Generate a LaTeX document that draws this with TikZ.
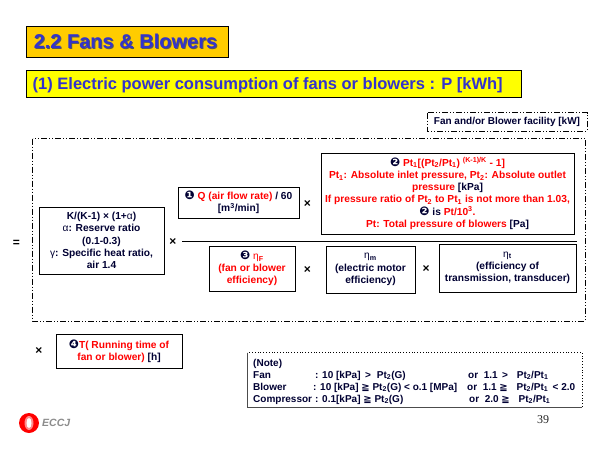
\documentclass[tikz,border=0pt]{standalone}
\usepackage{fontspec}
\setmainfont{Liberation Sans}
\newfontfamily\symfont{DejaVu Sans}
\newfontfamily\serifnum{Liberation Serif}
\definecolor{titleblue}{HTML}{3333CC}
\definecolor{titlegold}{HTML}{FFCC00}
\definecolor{subyellow}{HTML}{FFFF00}
\definecolor{inkdark}{HTML}{000033}
\newcommand{\cn}[1]{{\symfont\fontsize{12}{12}\selectfont\char"#1}}
\newcommand{\rd}[1]{\textcolor{red}{#1}}
\newcommand{\sbs}[1]{\textsubscript{#1}}
\newcommand{\rge}{{\symfont\char"2267}}
\tikzset{
  x=1pt,y=-1pt,
  every node/.style={font=\fontsize{10.2}{12.2}\selectfont\bfseries,text=inkdark,inner sep=0pt,align=center},
  termbox/.style={draw=black,line width=1pt,fill=white},
  dashframe/.style={draw=black,line width=0.9pt,dash pattern=on 6pt off 2pt on 1pt off 2pt on 1pt off 2pt},
  optext/.style={font=\fontsize{12}{12}\selectfont\bfseries,text=black},
  notetext/.style={font=\fontsize{10}{12}\selectfont\bfseries,anchor=base west},
  headtext/.style={font=\fontsize{20}{22}\selectfont\bfseries,anchor=base west,text=titleblue},
}
\begin{document}
\begin{tikzpicture}
\useasboundingbox (0,0) rectangle (600,450);
% headings
\draw[fill=titlegold,draw=black,line width=1pt] (26.5,26.5) rectangle (228,57);
\node[headtext,text=black!65] (titleshadow) at (34.6,49.6) {2.2 Fans \& Blowers};
\node[headtext] (title) at (33.6,48.6) {2.2 Fans \& Blowers};
\draw[fill=subyellow,draw=black,line width=1pt] (26.5,70.5) rectangle (521.5,97);
\node[font=\fontsize{16.5}{18}\selectfont\bfseries,anchor=base west,text=titleblue] (subtitle) at (32.5,89) {(1) Electric power consumption of fans or blowers : P [kWh]};
% dash frames
\draw[dashframe] (32.5,138.5) rectangle (585,321);
\draw[dashframe] (427.5,112.5) rectangle (587,131);
\node[font=\fontsize{10}{12}\selectfont\bfseries] (facility) at (507,122) {Fan and/or Blower facility [kW]};
% boxes
\node[termbox,minimum width=253pt,minimum height=81pt] (pbox) at (447.5,193.5) {\cn{2777} \rd{Pt\sbs{1}[(Pt\sbs{2}/Pt\sbs{1}) \textsuperscript{(K-1)/K} - 1]}\\
\rd{Pt\sbs{1}: Absolute inlet pressure, Pt\sbs{2}: Absolute outlet}\\
\rd{pressure} [kPa]\\
\rd{If pressure ratio of Pt\sbs{2} to Pt\sbs{1} is not more than 1.03,}\\
\cn{2777} is \rd{Pt/10\textsuperscript{3}.}\\
\rd{Pt: Total pressure of blowers} [Pa]};
\node[termbox,minimum width=125pt,minimum height=67pt] (kbox) at (101.5,240.5) {K/(K-1) × (1+{\mdseries α})\\{\mdseries α}: Reserve ratio\\(0.1-0.3)\\{\mdseries γ}: Specific heat ratio,\\air 1.4};
\node[termbox,minimum width=121pt,minimum height=31pt] (qbox) at (238.5,202.5) {\cn{2776} \rd{Q (air flow rate)} / 60\\{}[m\textsuperscript{3}/min]};
\node[termbox,minimum width=86pt,minimum height=45pt] (fbox) at (252,268.5) {\cn{2778} \rd{{\mdseries η}\sbs{F}}\\\rd{(fan or blower}\\\rd{efficiency)}};
\node[termbox,minimum width=89pt,minimum height=47pt] (mbox) at (370.5,269.5) {{\mdseries η}\sbs{m}\\(electric motor\\efficiency)};
\node[termbox,minimum width=137pt,minimum height=48pt] (tbox) at (507.5,268) {{\mdseries η}\sbs{t}\\(efficiency of\\transmission, transducer)};
\node[termbox,minimum width=126pt,minimum height=34pt] (rbox) at (119,351) {\cn{2779}\rd{T( Running time of}\\\rd{fan or blower)} [h]};
% fraction bar
\coordinate (barl) at (182,241);
\coordinate (barr) at (577,241);
\draw[black,line width=1pt] (barl) -- (barr);
% operators
\node[optext] (eq) at (16.5,243) {=};
\node[optext] (x1) at (173,242) {×};
\node[optext] (x2) at (307.5,203.5) {×};
\node[optext] (x3) at (307.5,270) {×};
\node[optext] (x4) at (426,268.5) {×};
\node[optext] (x5) at (39,350.5) {×};
% note
\draw[fill=white,draw=black,line width=0.8pt,dotted] (247.5,352.5) rectangle (582,407);
\draw[black!70,line width=0.8pt] (247.5,352.5) -- (247.5,407) -- (582,407);
\node[notetext] (n0) at (253,366) {(Note)};
\node[notetext] (n1a) at (253,378) {Fan};
\node[notetext] (n1b) at (315,378) {: 10 [kPa] \,>\,\, Pt\sbs{2}(G)};
\node[notetext] (n1c) at (468,378) {or \ 1.1 \,> \,\, Pt\sbs{2}/Pt\sbs{1}};
\node[notetext] (n2a) at (253,390) {Blower};
\node[notetext] (n2b) at (313,390) {: 10 [kPa] \rge{} Pt\sbs{2}(G) < o.1 [MPa]};
\node[notetext] (n2c) at (467,390) {or \ 1.1 \rge{} \,\, Pt\sbs{2}/Pt\sbs{1} \,< 2.0};
\node[notetext] (n3a) at (253,402) {Compressor};
\node[notetext] (n3b) at (315,402) {: 0.1[kPa] \rge{} Pt\sbs{2}(G)};
\node[notetext] (n3c) at (469,402) {or \ 2.0 \rge{} \,\, Pt\sbs{2}/Pt\sbs{1}};
% page number
\node[font=\fontsize{12}{14}\serifnum,text=black!85] (pageno) at (543,420) {39};
% logo
\fill[red] (29,423) circle (10);
\fill[red!45!white] (29,423) ellipse (4.5 and 7);
\fill[white] (29,423) ellipse (2.5 and 5);
\node[font=\fontsize{10.5}{12}\selectfont\bfseries\itshape,text=black!45,anchor=west] (eccj) at (42,423) {ECCJ};
\end{tikzpicture}
\end{document}
